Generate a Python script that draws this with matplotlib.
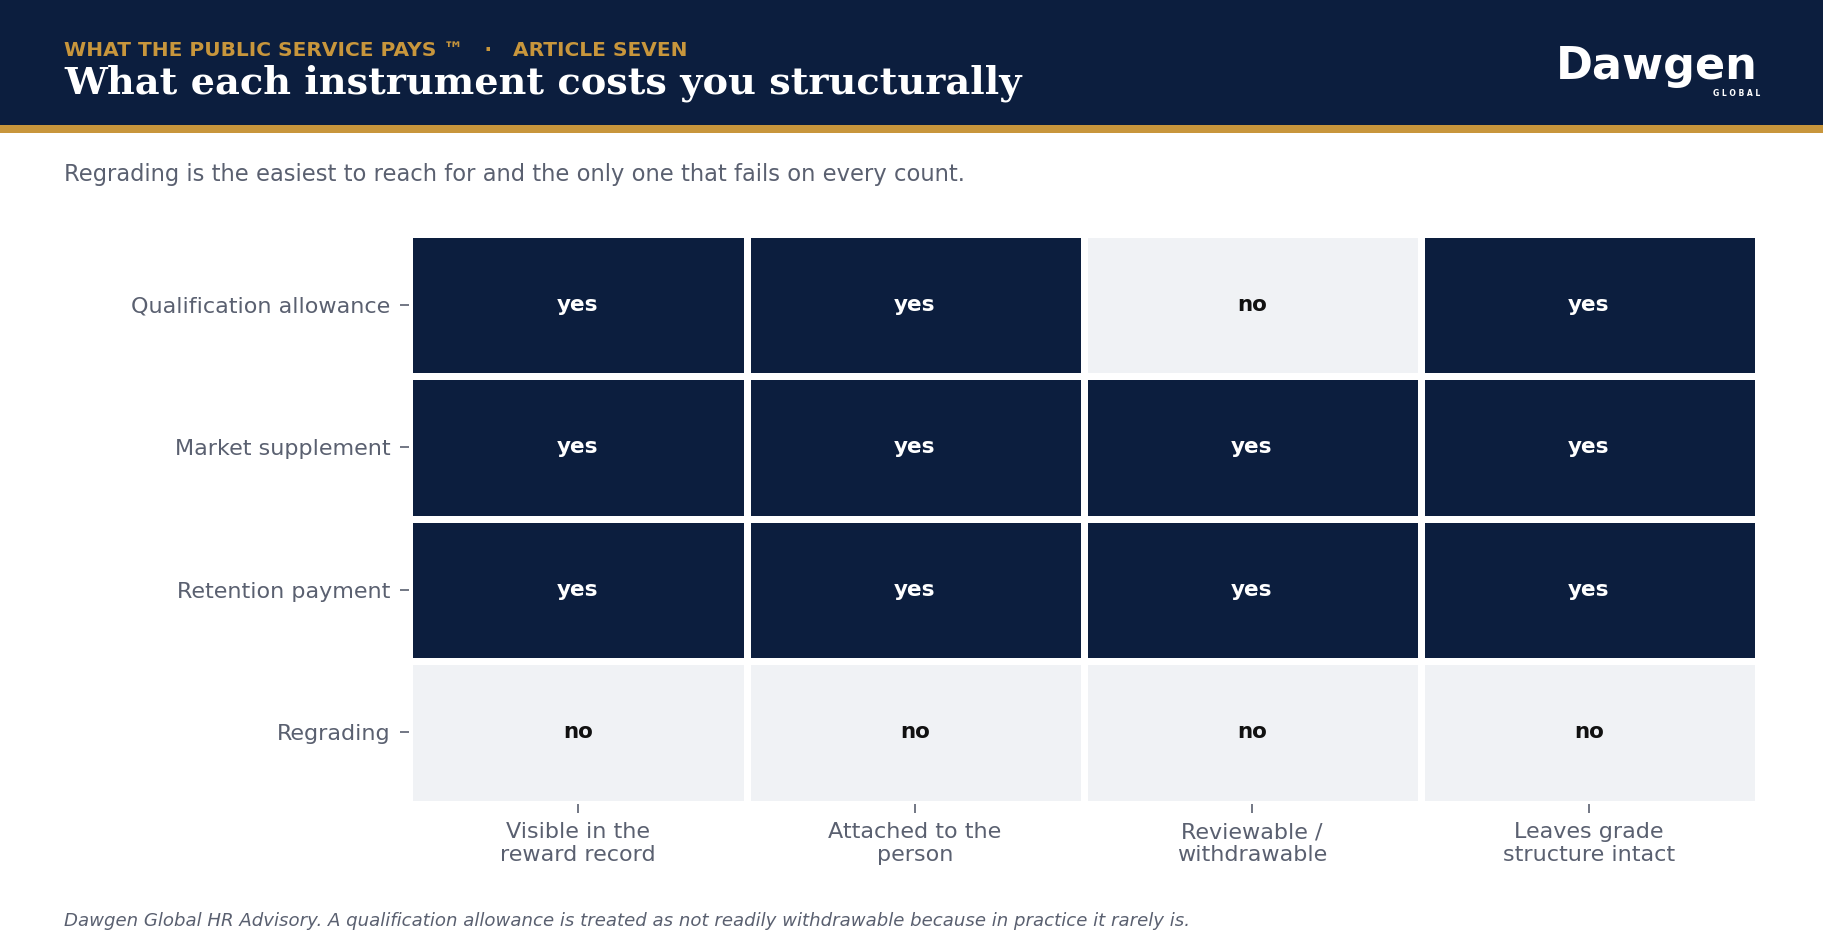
import matplotlib
matplotlib.use("Agg")
import matplotlib.pyplot as plt
import numpy as np
from matplotlib.colors import ListedColormap
from matplotlib.patches import Rectangle

NAVY = "#0C1E3E"
GOLD = "#C8963C"
LIGHT = "#F0F2F5"
GREY = "#5A6070"

instruments = ["Qualification allowance", "Market supplement", "Retention payment", "Regrading"]
criteria = [
    "Visible in the\nreward record",
    "Attached to the\nperson",
    "Reviewable /\nwithdrawable",
    "Leaves grade\nstructure intact",
]
# 1 = yes, 0 = no
passes = [
    [1, 1, 0, 1],
    [1, 1, 1, 1],
    [1, 1, 1, 1],
    [0, 0, 0, 0],
]

plt.rcParams["font.family"] = ["DejaVu Sans"]

fig = plt.figure(figsize=(18.24, 9.5), dpi=100)
fig.patch.set_facecolor("white")

# header band + gold rule
fig.add_artist(Rectangle((0, 1 - 125 / 950), 1, 125 / 950, transform=fig.transFigure,
                         facecolor=NAVY, edgecolor="none", zorder=0))
fig.add_artist(Rectangle((0, 1 - 133 / 950), 1, 8 / 950, transform=fig.transFigure,
                         facecolor=GOLD, edgecolor="none", zorder=0))

fig.text(64 / 1824, 1 - 56 / 950, "WHAT THE PUBLIC SERVICE PAYS \u2122   \u00b7   ARTICLE SEVEN",
         color=GOLD, fontsize=14.5, fontweight="bold", va="baseline")
fig.text(64 / 1824, 1 - 94 / 950, "What each instrument costs you structurally",
         color="white", fontsize=27.5, fontweight="bold", family="DejaVu Serif", va="baseline")

# logo
fig.text(1758 / 1824, 1 - 79 / 950, "Dawgen", color="white", fontsize=32,
         fontweight="bold", ha="right", va="baseline")
fig.text(1760 / 1824, 1 - 96 / 950, "G L O B A L", color="white", fontsize=5.5,
         fontweight="bold", ha="right", va="baseline")

fig.text(64 / 1824, 1 - 181 / 950,
         "Regrading is the easiest to reach for and the only one that fails on every count.",
         color=GREY, fontsize=16.3, va="baseline")

fig.text(64 / 1824, 1 - 926 / 950,
         "Dawgen Global HR Advisory. A qualification allowance is treated as not readily "
         "withdrawable because in practice it rarely is.",
         color=GREY, fontsize=13.1, style="italic", va="baseline")

ax = fig.add_axes([409.5 / 1824, 1 - 803.5 / 950, 1348 / 1824, 570 / 950])
data = np.array(passes)
ax.pcolormesh(data, cmap=ListedColormap([LIGHT, NAVY]), vmin=0, vmax=1,
              edgecolors="white", linewidth=5)
ax.set_xlim(0, len(criteria))
ax.set_ylim(len(instruments), 0)

for i in range(len(instruments)):
    for j in range(len(criteria)):
        ok = passes[i][j] == 1
        ax.text(j + 0.5, i + 0.5, "yes" if ok else "no", ha="center", va="center",
                fontsize=15.5, fontweight="bold", color="white" if ok else "#111111")

ax.set_xticks(np.arange(len(criteria)) + 0.5)
ax.set_xticklabels(criteria)
ax.set_yticks(np.arange(len(instruments)) + 0.5)
ax.set_yticklabels(instruments)
ax.tick_params(colors=GREY, labelsize=16, length=6.5, width=1.2, pad=7)
for s in ax.spines.values():
    s.set_visible(False)

fig.savefig("out.png", dpi=100)
